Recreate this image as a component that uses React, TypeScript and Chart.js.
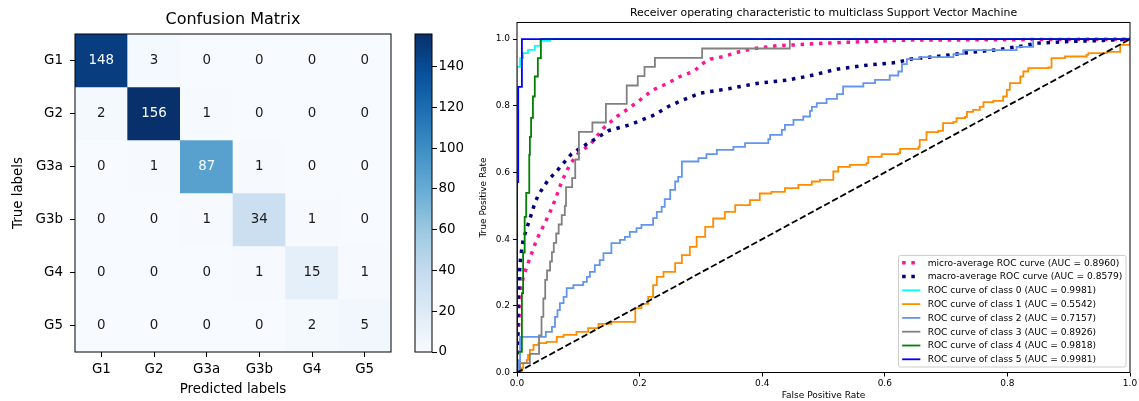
import React, { useEffect, useRef } from 'react';
import { Chart, registerables } from 'chart.js';

Chart.register(...registerables);

const FONT = '"DejaVu Sans", "Liberation Sans", sans-serif';

// ---------------- Confusion matrix data ----------------
const predictedLabels = ['G1', 'G2', 'G3a', 'G3b', 'G4', 'G5'];
const trueLabels = ['G1', 'G2', 'G3a', 'G3b', 'G4', 'G5'];
const countsTrueG1 = [148, 3, 0, 0, 0, 0];
const countsTrueG2 = [2, 156, 1, 0, 0, 0];
const countsTrueG3a = [0, 1, 87, 1, 0, 0];
const countsTrueG3b = [0, 0, 1, 34, 1, 0];
const countsTrueG4 = [0, 0, 0, 1, 15, 1];
const countsTrueG5 = [0, 0, 0, 0, 2, 5];
const confusionRows = [countsTrueG1, countsTrueG2, countsTrueG3a, countsTrueG3b, countsTrueG4, countsTrueG5];
const colorbarTicks = [0, 20, 40, 60, 80, 100, 120, 140];

// ---------------- ROC data ----------------
const rocTicks = [0, 0.2, 0.4, 0.6, 0.8, 1.0];
const rocSeriesNames = [
  'micro-average ROC curve',
  'macro-average ROC curve',
  'ROC curve of class 0',
  'ROC curve of class 1',
  'ROC curve of class 2',
  'ROC curve of class 3',
  'ROC curve of class 4',
  'ROC curve of class 5',
];
const rocAucValues = [0.896, 0.8579, 0.9981, 0.5542, 0.7157, 0.8926, 0.9818, 0.9981];

const microFpr = [0, 0.002, 0.005, 0.01, 0.016, 0.024, 0.032, 0.04, 0.048, 0.054, 0.062, 0.073, 0.086, 0.1, 0.119, 0.141, 0.163, 0.179, 0.201, 0.222, 0.244, 0.266, 0.288, 0.304, 0.315, 0.337, 0.364, 0.391, 0.424, 0.456, 0.502, 0.63, 1.0];
const microTpr = [0, 0.118, 0.218, 0.287, 0.317, 0.358, 0.398, 0.428, 0.458, 0.482, 0.517, 0.573, 0.623, 0.658, 0.683, 0.733, 0.768, 0.788, 0.818, 0.848, 0.866, 0.888, 0.903, 0.928, 0.94, 0.948, 0.963, 0.973, 0.98, 0.983, 0.988, 0.997, 1.0];

const macroFpr = [0, 0.002, 0.004, 0.006, 0.01, 0.016, 0.024, 0.029, 0.035, 0.051, 0.062, 0.076, 0.089, 0.103, 0.127, 0.15, 0.184, 0.222, 0.247, 0.266, 0.299, 0.347, 0.391, 0.44, 0.478, 0.522, 0.576, 0.619, 0.641, 0.685, 0.728, 0.783, 0.826, 0.848, 0.902, 0.956, 1.0];
const macroTpr = [0, 0.22, 0.3, 0.347, 0.398, 0.433, 0.478, 0.508, 0.533, 0.578, 0.598, 0.628, 0.656, 0.673, 0.7, 0.726, 0.743, 0.771, 0.798, 0.814, 0.838, 0.852, 0.867, 0.877, 0.89, 0.91, 0.923, 0.93, 0.94, 0.948, 0.958, 0.968, 0.98, 0.988, 0.993, 0.996, 1.0];

const class0Fpr = [0, 0, 0.005, 0.005, 0.01, 0.01, 0.018, 0.018, 0.029, 0.029, 0.038, 0.038, 0.054, 0.054, 1.0];
const class0Tpr = [0, 0.917, 0.917, 0.943, 0.943, 0.958, 0.958, 0.968, 0.968, 0.98, 0.98, 0.995, 0.995, 1.0, 1.0];

const class1Fpr = [0, 0.008, 0.01, 0.016, 0.018, 0.021, 0.027, 0.035, 0.048, 0.065, 0.076, 0.097, 0.116, 0.133, 0.154, 0.193, 0.193, 0.203, 0.214, 0.222, 0.228, 0.239, 0.258, 0.269, 0.282, 0.293, 0.307, 0.32, 0.339, 0.356, 0.38, 0.396, 0.415, 0.437, 0.459, 0.481, 0.494, 0.516, 0.524, 0.543, 0.57, 0.573, 0.595, 0.622, 0.625, 0.655, 0.657, 0.668, 0.687, 0.695, 0.712, 0.717, 0.731, 0.734, 0.744, 0.755, 0.761, 0.777, 0.793, 0.799, 0.804, 0.821, 0.826, 0.834, 0.867, 0.872, 0.894, 0.929, 0.932, 0.962, 0.984, 1.0];
const class1Tpr = [0, 0.013, 0.028, 0.038, 0.053, 0.068, 0.083, 0.088, 0.092, 0.107, 0.113, 0.122, 0.133, 0.146, 0.152, 0.158, 0.193, 0.206, 0.227, 0.262, 0.287, 0.302, 0.328, 0.352, 0.377, 0.407, 0.437, 0.462, 0.482, 0.502, 0.517, 0.537, 0.542, 0.553, 0.563, 0.573, 0.578, 0.603, 0.617, 0.623, 0.628, 0.647, 0.655, 0.658, 0.671, 0.677, 0.698, 0.721, 0.725, 0.748, 0.752, 0.763, 0.767, 0.782, 0.788, 0.797, 0.811, 0.815, 0.828, 0.848, 0.868, 0.888, 0.903, 0.913, 0.915, 0.943, 0.948, 0.953, 0.958, 0.962, 0.983, 1.0];

const class2Fpr = [0, 0.003, 0.003, 0.005, 0.005, 0.047, 0.047, 0.057, 0.057, 0.062, 0.062, 0.066, 0.066, 0.07, 0.07, 0.076, 0.076, 0.081, 0.081, 0.092, 0.092, 0.108, 0.108, 0.114, 0.114, 0.119, 0.119, 0.127, 0.127, 0.135, 0.135, 0.141, 0.141, 0.154, 0.154, 0.168, 0.168, 0.176, 0.176, 0.184, 0.184, 0.195, 0.195, 0.203, 0.203, 0.222, 0.222, 0.228, 0.228, 0.236, 0.236, 0.241, 0.241, 0.25, 0.25, 0.258, 0.258, 0.263, 0.263, 0.269, 0.269, 0.296, 0.296, 0.309, 0.309, 0.326, 0.326, 0.353, 0.353, 0.372, 0.372, 0.41, 0.41, 0.413, 0.413, 0.432, 0.432, 0.437, 0.437, 0.451, 0.451, 0.467, 0.467, 0.478, 0.478, 0.481, 0.481, 0.489, 0.489, 0.505, 0.505, 0.522, 0.522, 0.532, 0.532, 0.565, 0.565, 0.584, 0.584, 0.608, 0.608, 0.622, 0.622, 0.628, 0.628, 0.636, 0.636, 0.657, 0.657, 0.712, 0.712, 0.728, 0.728, 0.815, 0.815, 0.842, 0.842, 1.0];
const class2Tpr = [0, 0.011, 0.034, 0.034, 0.107, 0.107, 0.122, 0.122, 0.137, 0.137, 0.167, 0.167, 0.187, 0.187, 0.208, 0.208, 0.227, 0.227, 0.253, 0.253, 0.262, 0.262, 0.272, 0.272, 0.287, 0.287, 0.302, 0.302, 0.322, 0.322, 0.337, 0.337, 0.358, 0.358, 0.388, 0.388, 0.398, 0.398, 0.407, 0.407, 0.422, 0.422, 0.433, 0.433, 0.443, 0.443, 0.463, 0.463, 0.482, 0.482, 0.497, 0.497, 0.52, 0.52, 0.548, 0.548, 0.573, 0.573, 0.587, 0.587, 0.633, 0.633, 0.643, 0.643, 0.655, 0.655, 0.668, 0.668, 0.677, 0.677, 0.688, 0.688, 0.7, 0.7, 0.713, 0.713, 0.728, 0.728, 0.743, 0.743, 0.758, 0.758, 0.768, 0.768, 0.785, 0.785, 0.797, 0.797, 0.808, 0.808, 0.821, 0.821, 0.835, 0.835, 0.858, 0.858, 0.868, 0.868, 0.878, 0.878, 0.891, 0.891, 0.903, 0.903, 0.925, 0.925, 0.94, 0.94, 0.946, 0.946, 0.955, 0.955, 0.967, 0.967, 0.977, 0.977, 1.0, 1.0];

const class3Fpr = [0, 0.005, 0.005, 0.021, 0.021, 0.036, 0.036, 0.04, 0.04, 0.043, 0.043, 0.046, 0.046, 0.049, 0.049, 0.054, 0.054, 0.057, 0.057, 0.06, 0.06, 0.064, 0.064, 0.068, 0.068, 0.073, 0.073, 0.078, 0.078, 0.08, 0.08, 0.09, 0.09, 0.095, 0.095, 0.101, 0.101, 0.123, 0.123, 0.145, 0.145, 0.179, 0.179, 0.197, 0.197, 0.208, 0.208, 0.225, 0.225, 0.302, 0.302, 0.445, 0.445, 1.0];
const class3Tpr = [0, 0, 0.028, 0.028, 0.056, 0.056, 0.111, 0.111, 0.167, 0.167, 0.222, 0.222, 0.278, 0.278, 0.306, 0.306, 0.333, 0.333, 0.361, 0.361, 0.389, 0.389, 0.417, 0.417, 0.444, 0.444, 0.472, 0.472, 0.5, 0.5, 0.556, 0.556, 0.583, 0.583, 0.639, 0.639, 0.722, 0.722, 0.75, 0.75, 0.806, 0.806, 0.861, 0.861, 0.889, 0.889, 0.917, 0.917, 0.944, 0.944, 0.972, 0.972, 1.0, 1.0];

const class4Fpr = [0, 0, 0.008, 0.008, 0.01, 0.01, 0.0125, 0.0125, 0.015, 0.015, 0.02, 0.02, 0.021, 0.021, 0.023, 0.023, 0.026, 0.026, 0.029, 0.029, 0.034, 0.034, 0.039, 0.039, 1.0];
const class4Tpr = [0, 0.062, 0.062, 0.238, 0.238, 0.36, 0.36, 0.467, 0.467, 0.539, 0.539, 0.653, 0.653, 0.707, 0.707, 0.764, 0.764, 0.828, 0.828, 0.888, 0.888, 0.943, 0.943, 1.0, 1.0];

const class5Fpr = [0, 0, 0.002, 0.002, 0.008, 0.008, 1.0];
const class5Tpr = [0, 0.571, 0.571, 0.857, 0.857, 1.0, 1.0];

const chanceFpr = [0, 1];
const chanceTpr = [0, 1];

// ---------------- helpers ----------------
const BLUES_STOPS = ['#f7fbff', '#deebf7', '#c6dbef', '#9ecae1', '#6baed6', '#4292c6', '#2171b5', '#08519c', '#08306b'];
function hexToRgb(h: string) {
  return [parseInt(h.slice(1, 3), 16), parseInt(h.slice(3, 5), 16), parseInt(h.slice(5, 7), 16)];
}
function blues(t: number) {
  const c = Math.max(0, Math.min(1, t)) * (BLUES_STOPS.length - 1);
  const i = Math.min(BLUES_STOPS.length - 2, Math.floor(c));
  const f = c - i;
  const a = hexToRgb(BLUES_STOPS[i]);
  const b = hexToRgb(BLUES_STOPS[i + 1]);
  const m = a.map((v, k) => Math.round(v + (b[k] - v) * f));
  return `rgb(${m[0]},${m[1]},${m[2]})`;
}

const CM_FS = 13.4;
const ROC_FS = 9.0;
const ROC_LEGEND_FS = 9.1;

export default function App() {
  const cmRef = useRef<HTMLCanvasElement>(null);
  const cbRef = useRef<HTMLCanvasElement>(null);
  const rocRef = useRef<HTMLCanvasElement>(null);

  useEffect(() => {
    const vmax = Math.max(...confusionRows.flat());
    const cmFont = { family: FONT, size: CM_FS };

    // ---------- Confusion matrix ----------
    const cmChart = new Chart(cmRef.current!, {
      type: 'bar',
      data: {
        labels: predictedLabels,
        datasets: confusionRows.map((row, i) => ({
          label: trueLabels[i],
          data: row.map(() => [i, i + 1]),
          backgroundColor: row.map((v) => blues(v / vmax)),
          borderWidth: 0,
          barPercentage: 1,
          categoryPercentage: 1,
          grouped: false,
        })) as any,
      },
      options: {
        animation: false,
        responsive: false,
        events: [],
        layout: { padding: { left: 0, right: 9, top: 0, bottom: 0 } },
        plugins: {
          legend: { display: false },
          tooltip: { enabled: false },
          title: {
            display: true,
            text: 'Confusion Matrix',
            fullSize: false,
            color: '#000',
            font: { family: FONT, size: 16, weight: 'normal' },
            padding: { top: 10.5, bottom: 4.3 },
          },
        },
        scales: {
          x: {
            type: 'category',
            offset: true,
            grid: { display: true, drawOnChartArea: false, drawTicks: true, tickLength: 5, color: '#000', offset: false },
            border: { display: false },
            ticks: { font: cmFont, color: '#000', padding: 4, maxRotation: 0, autoSkip: false },
            title: { display: true, text: 'Predicted labels', font: cmFont, color: '#000', padding: { top: 0, bottom: 3.5 } },
            afterFit: (s: any) => { s.height = 49; },
          },
          y: {
            type: 'linear',
            min: 0,
            max: trueLabels.length,
            reverse: true,
            afterBuildTicks: (s: any) => { s.ticks = trueLabels.map((_, i) => ({ value: i + 0.5 })); },
            grid: { display: true, drawOnChartArea: false, drawTicks: true, tickLength: 5, color: '#000' },
            border: { display: false },
            ticks: { font: cmFont, color: '#000', padding: 7, autoSkip: false, callback: (_v: any, i: number) => trueLabels[i] },
            title: { display: true, text: 'True labels', font: cmFont, color: '#000', padding: { top: 10.3, bottom: 0 } },
            afterFit: (s: any) => { s.width = 75; },
          },
        },
      } as any,
      plugins: [
        {
          id: 'cmCells',
          afterDatasetsDraw(chart: any) {
            const { ctx, chartArea, scales } = chart;
            ctx.save();
            ctx.font = `${CM_FS}px ${FONT}`;
            ctx.textAlign = 'center';
            ctx.textBaseline = 'middle';
            confusionRows.forEach((row, i) => {
              row.forEach((v, j) => {
                ctx.fillStyle = v > vmax / 2 ? blues(0) : '#1a1a1a';
                ctx.fillText(String(v), scales.x.getPixelForValue(j), scales.y.getPixelForValue(i + 0.5) + 0.5);
              });
            });
            ctx.strokeStyle = '#000';
            ctx.lineWidth = 1;
            ctx.strokeRect(chartArea.left, chartArea.top, chartArea.right - chartArea.left, chartArea.bottom - chartArea.top);
            ctx.restore();
          },
        },
      ],
    });

    // ---------- Colorbar ----------
    const cbChart = new Chart(cbRef.current!, {
      type: 'bar',
      data: {
        labels: [''],
        datasets: [
          {
            data: [[0, vmax]],
            backgroundColor: (c: any) => {
              const ca = c.chart.chartArea;
              if (!ca) return blues(0.5);
              const g = c.chart.ctx.createLinearGradient(0, ca.bottom, 0, ca.top);
              BLUES_STOPS.forEach((col, k) => g.addColorStop(k / (BLUES_STOPS.length - 1), col));
              return g;
            },
            borderWidth: 0,
            barPercentage: 1,
            categoryPercentage: 1,
          },
        ] as any,
      },
      options: {
        animation: false,
        responsive: false,
        events: [],
        layout: { padding: { left: 15, right: 0, top: 34, bottom: 49 } },
        plugins: { legend: { display: false }, tooltip: { enabled: false } },
        scales: {
          x: { display: false },
          y: {
            type: 'linear',
            position: 'right',
            min: 0,
            max: vmax,
            afterBuildTicks: (s: any) => { s.ticks = colorbarTicks.map((v) => ({ value: v })); },
            grid: { display: true, drawOnChartArea: false, drawTicks: true, tickLength: 5, color: '#000' },
            border: { display: false },
            ticks: { font: cmFont, color: '#000', padding: 1.5, autoSkip: false },
            afterFit: (s: any) => { s.width = 68; },
          },
        },
      } as any,
      plugins: [
        {
          id: 'cbFrame',
          afterDatasetsDraw(chart: any) {
            const { ctx, chartArea } = chart;
            ctx.save();
            ctx.strokeStyle = '#000';
            ctx.lineWidth = 1;
            ctx.strokeRect(chartArea.left, chartArea.top, chartArea.right - chartArea.left, chartArea.bottom - chartArea.top);
            ctx.restore();
          },
        },
      ],
    });

    // ---------- ROC ----------
    const rocStyles = [
      { color: '#ff1493', width: 3.5, dash: [3.5, 5.7], order: 9, stepped: false },
      { color: '#000080', width: 3.5, dash: [3.5, 5.7], order: 8, stepped: false },
      { color: '#00ffff', width: 1.8, dash: [], order: 7, stepped: 'before' },
      { color: '#ff8c00', width: 1.8, dash: [], order: 6, stepped: 'before' },
      { color: '#6495ed', width: 1.8, dash: [], order: 5, stepped: 'before' },
      { color: '#808080', width: 1.8, dash: [], order: 4, stepped: 'before' },
      { color: '#008000', width: 1.8, dash: [], order: 3, stepped: 'before' },
      { color: '#0000ff', width: 1.8, dash: [], order: 2, stepped: 'before' },
    ];
    const rocFprs = [microFpr, macroFpr, class0Fpr, class1Fpr, class2Fpr, class3Fpr, class4Fpr, class5Fpr];
    const rocTprs = [microTpr, macroTpr, class0Tpr, class1Tpr, class2Tpr, class3Tpr, class4Tpr, class5Tpr];
    const rocLabels = rocSeriesNames.map((n, i) => `${n} (AUC = ${rocAucValues[i].toFixed(4)})`);

    const rocDatasets: any[] = rocFprs.map((fpr, i) => ({
      label: rocLabels[i],
      data: fpr.map((x, k) => ({ x, y: rocTprs[i][k] })),
      borderColor: rocStyles[i].color,
      borderWidth: rocStyles[i].width,
      borderDash: rocStyles[i].dash,
      borderCapStyle: 'butt',
      borderJoinStyle: 'miter',
      stepped: rocStyles[i].stepped,
      order: rocStyles[i].order,
      pointRadius: 0,
      fill: false,
      tension: 0,
      clip: 0,
      inLegend: true,
    }));
    rocDatasets.push({
      label: 'chance',
      data: chanceFpr.map((x, k) => ({ x, y: chanceTpr[k] })),
      borderColor: '#000',
      borderWidth: 1.8,
      borderDash: [6.4, 2.8],
      borderCapStyle: 'butt',
      order: 1,
      pointRadius: 0,
      fill: false,
      tension: 0,
      clip: 0,
      inLegend: false,
    });

    const rocFont = { family: FONT, size: ROC_FS };
    const rocChart = new Chart(rocRef.current!, {
      type: 'line',
      data: { datasets: rocDatasets },
      options: {
        animation: false,
        responsive: false,
        events: [],
        layout: { padding: { left: 0, right: 9, top: 0, bottom: 0 } },
        plugins: {
          legend: { display: false },
          tooltip: { enabled: false },
          title: {
            display: true,
            text: 'Receiver operating characteristic to multiclass Support Vector Machine',
            fullSize: false,
            color: '#000',
            font: { family: FONT, size: 10.9, weight: 'normal' },
            padding: { top: 7, bottom: 2.4 },
          },
        },
        scales: {
          x: {
            type: 'linear',
            min: 0,
            max: 1,
            afterBuildTicks: (s: any) => { s.ticks = rocTicks.map((v) => ({ value: v })); },
            grid: { display: true, drawOnChartArea: false, drawTicks: true, tickLength: 4, color: '#000' },
            border: { display: false },
            ticks: { font: rocFont, color: '#000', padding: 1.5, maxRotation: 0, autoSkip: false, callback: (v: any) => Number(v).toFixed(1) },
            title: { display: true, text: 'False Positive Rate', font: rocFont, color: '#000', padding: { top: 0, bottom: 0.2 } },
            afterFit: (s: any) => { s.height = 28.5; },
          },
          y: {
            type: 'linear',
            min: 0,
            max: 1.05,
            afterBuildTicks: (s: any) => { s.ticks = rocTicks.map((v) => ({ value: v })); },
            grid: { display: true, drawOnChartArea: false, drawTicks: true, tickLength: 4, color: '#000' },
            border: { display: false },
            ticks: { font: rocFont, color: '#000', padding: 3, autoSkip: false, callback: (v: any) => Number(v).toFixed(1) },
            title: { display: true, text: 'True Positive Rate', font: rocFont, color: '#000', padding: { top: 8.6, bottom: 0 } },
            afterFit: (s: any) => { s.width = 47; },
          },
        },
      } as any,
      plugins: [
        {
          id: 'rocFrameLegend',
          afterDatasetsDraw(chart: any) {
            const { ctx, chartArea } = chart;
            ctx.save();
            ctx.strokeStyle = '#000';
            ctx.lineWidth = 1;
            ctx.strokeRect(chartArea.left, chartArea.top, chartArea.right - chartArea.left, chartArea.bottom - chartArea.top);
            ctx.restore();
          },
          afterDraw(chart: any) {
            const { ctx, chartArea } = chart;
            const items = chart.data.datasets.filter((d: any) => d.inLegend);
            ctx.save();
            ctx.font = `${ROC_LEGEND_FS}px ${FONT}`;
            const maxW = Math.max(...items.map((d: any) => ctx.measureText(d.label).width));
            const pad = 0.4 * ROC_LEGEND_FS;
            const handle = 2 * ROC_LEGEND_FS;
            const gap = 0.8 * ROC_LEGEND_FS;
            const rowH = 13.8;
            const w = pad + handle + gap + maxW + pad;
            const h = (items.length - 1) * rowH + 15;
            const right = chartArea.right - 4;
            const bottom = chartArea.bottom - 5.5;
            const left = right - w;
            const top = bottom - h;
            const r = 2;
            ctx.beginPath();
            ctx.moveTo(left + r, top);
            ctx.lineTo(right - r, top);
            ctx.quadraticCurveTo(right, top, right, top + r);
            ctx.lineTo(right, bottom - r);
            ctx.quadraticCurveTo(right, bottom, right - r, bottom);
            ctx.lineTo(left + r, bottom);
            ctx.quadraticCurveTo(left, bottom, left, bottom - r);
            ctx.lineTo(left, top + r);
            ctx.quadraticCurveTo(left, top, left + r, top);
            ctx.closePath();
            ctx.fillStyle = 'rgba(255,255,255,0.8)';
            ctx.fill();
            ctx.strokeStyle = '#cccccc';
            ctx.lineWidth = 1;
            ctx.stroke();
            items.forEach((d: any, k: number) => {
              const y = top + 7.3 + k * rowH;
              const x0 = left + pad;
              ctx.save();
              ctx.strokeStyle = d.borderColor;
              ctx.lineWidth = d.borderWidth;
              ctx.setLineDash(d.borderDash || []);
              ctx.lineCap = 'butt';
              ctx.beginPath();
              ctx.moveTo(x0, y);
              ctx.lineTo(x0 + handle, y);
              ctx.stroke();
              ctx.restore();
              ctx.fillStyle = '#000';
              ctx.textAlign = 'left';
              ctx.textBaseline = 'middle';
              ctx.fillText(d.label, x0 + handle + gap, y + 0.5);
            });
            ctx.restore();
          },
        },
      ],
    });

    return () => {
      cmChart.destroy();
      cbChart.destroy();
      rocChart.destroy();
    };
  }, []);

  return (
    <div style={{ position: 'absolute', left: 0, top: 0, width: 1139, height: 401, background: '#fff', overflow: 'hidden' }}>
      <canvas ref={cmRef} width={400} height={401} style={{ position: 'absolute', left: 0, top: 0 }} />
      <canvas ref={cbRef} width={100} height={401} style={{ position: 'absolute', left: 400, top: 0 }} />
      <canvas ref={rocRef} width={669} height={401} style={{ position: 'absolute', left: 470, top: 0 }} />
    </div>
  );
}
